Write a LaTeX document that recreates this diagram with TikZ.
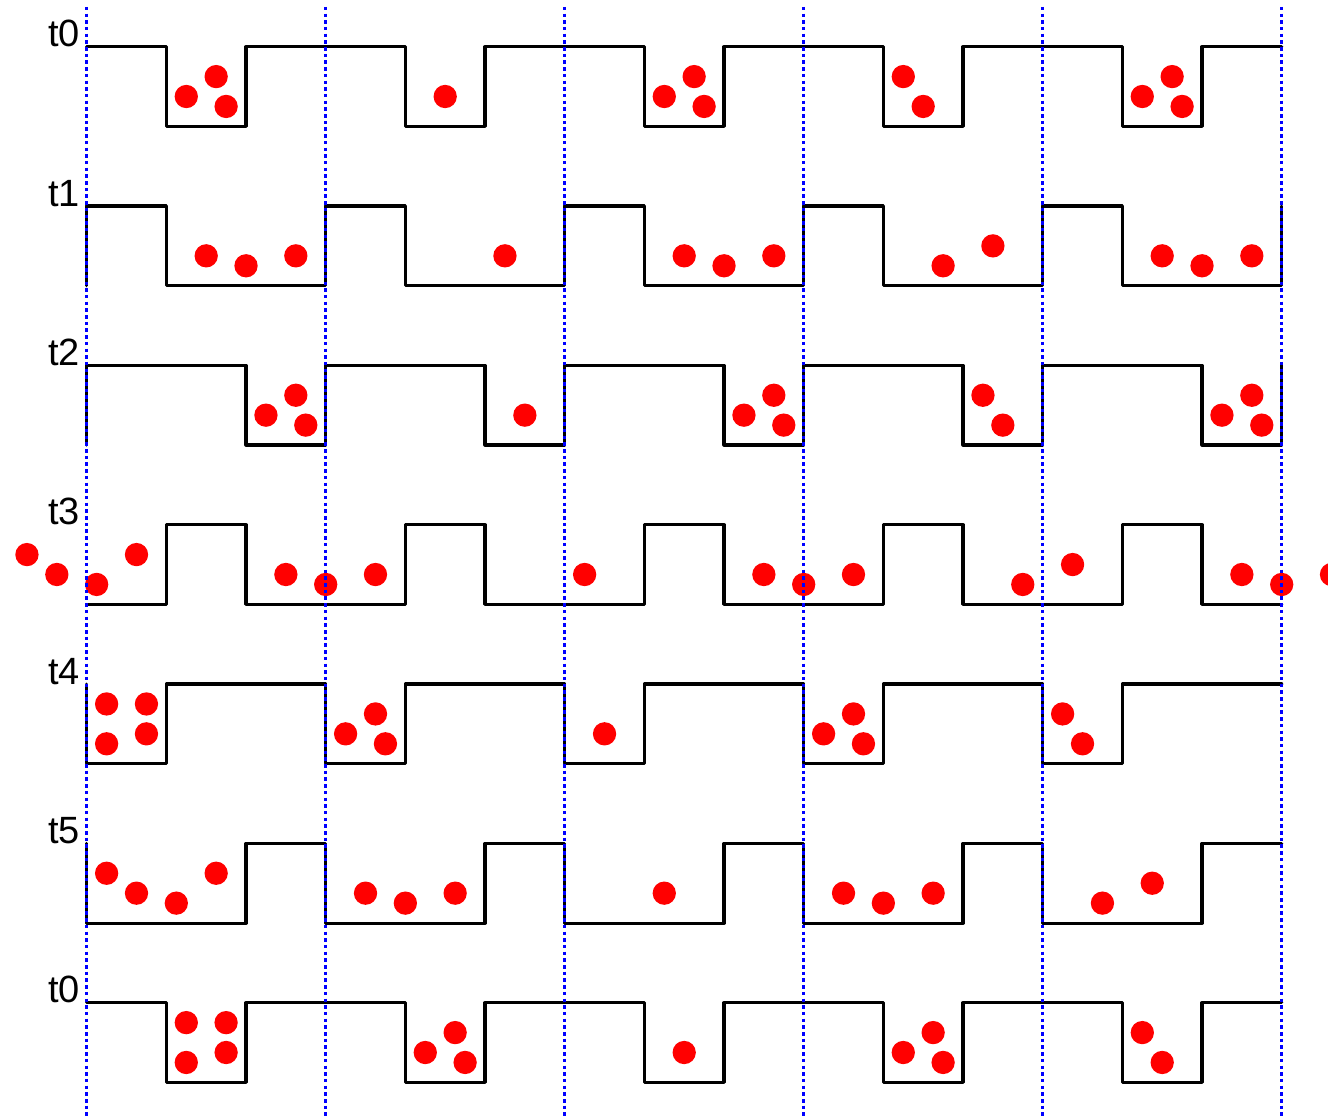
\documentclass[tikz,border=0pt]{standalone}
\usepackage{fontspec}
\setmainfont{Liberation Sans}
\begin{document}
\begin{tikzpicture}[x=4.979pt,y=-4.979pt,
  wave/.style={line width=1.55pt, line join=round, line cap=round},
  bead/.style={fill=red},
  guide/.style={blue, line width=1.3pt, dash pattern=on 1.75pt off 1.6pt},
  lab/.style={anchor=base east, inner sep=0pt, font=\fontsize{19}{22}\selectfont}]
\useasboundingbox (-8.706,-4.690) rectangle (124.650,107.377);
\clip (-8.706,-4.690) rectangle (124.650,107.377);
% labels
\node[lab] (l0) at (-0.62,0) {t0};
\node[lab] (l1) at (-0.62,16) {t1};
\node[lab] (l2) at (-0.62,32) {t2};
\node[lab] (l3) at (-0.62,48) {t3};
\node[lab] (l4) at (-0.62,64) {t4};
\node[lab] (l5) at (-0.62,80) {t5};
\node[lab] (l6) at (-0.62,96) {t0};
% waves
\draw[wave] (0,0) foreach \p in {0,24,48,72,96} {-- (\p+8,0) -- (\p+8,8) -- (\p+16,8) -- (\p+16,0)} -- (120,0);
\draw[wave] (0,24) -- (0,16) foreach \p in {0,24,48,72,96} {-- (\p+8,16) -- (\p+8,24) -- (\p+24,24) -- (\p+24,16)};
\draw[wave] (0,40) -- (0,32) foreach \p in {0,24,48,72,96} {-- (\p+16,32) -- (\p+16,40) -- (\p+24,40) -- (\p+24,32)};
\draw[wave] (0,56) foreach \p in {0,24,48,72,96} {-- (\p+8,56) -- (\p+8,48) -- (\p+16,48) -- (\p+16,56)} -- (120,56);
\draw[wave] (0,64) -- (0,72) foreach \p in {0,24,48,72} {-- (\p+8,72) -- (\p+8,64) -- (\p+24,64) -- (\p+24,72)} -- (104,72) -- (104,64) -- (120,64);
\draw[wave] (0,80) -- (0,88) foreach \p in {0,24,48,72} {-- (\p+16,88) -- (\p+16,80) -- (\p+24,80) -- (\p+24,88)} -- (112,88) -- (112,80) -- (120,80);
\draw[wave] (0,96) foreach \p in {0,24,48,72,96} {-- (\p+8,96) -- (\p+8,104) -- (\p+16,104) -- (\p+16,96)} -- (120,96);
% beads
\foreach \a/\b in {10/5,13/3,14/6,36/5,58/5,61/3,62/6,82/3,84/6,106/5,109/3,110/6,
  12/21,16/22,21/21,42/21,60/21,64/22,69/21,86/22,91/20,108/21,112/22,117/21,
  18/37,21/35,22/38,44/37,66/37,69/35,70/38,90/35,92/38,114/37,117/35,118/38,
  -6/51,-3/53,1/54,5/51,20/53,24/54,29/53,50/53,68/53,72/54,77/53,94/54,99/52,116/53,120/54,125/53,
  2/66,6/66,2/70,6/69,26/69,29/67,30/70,52/69,74/69,77/67,78/70,98/67,100/70,
  2/83,5/85,9/86,13/83,28/85,32/86,37/85,58/85,76/85,80/86,85/85,102/86,107/84,
  10/98,14/98,10/102,14/101,34/101,37/99,38/102,60/101,82/101,85/99,86/102,106/99,108/102}
  \fill[bead] (\a,\b) circle[radius=1.17];
% guides
\foreach \p in {0,24,48,72,96,120}
  \draw[guide] (\p,-4) -- (\p,108);
\end{tikzpicture}
\end{document}
